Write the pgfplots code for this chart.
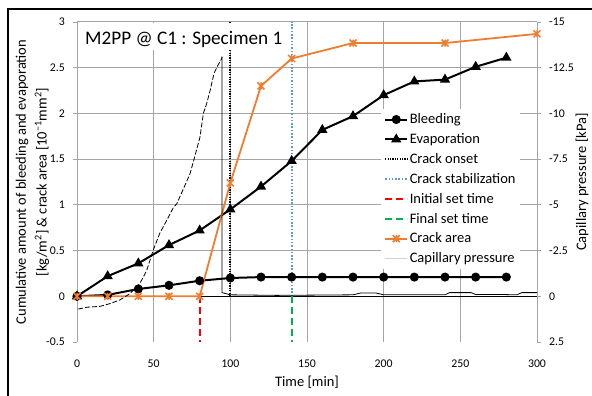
\documentclass[border=0pt]{standalone}
\usepackage{pgfplots}
\pgfplotsset{compat=1.18}
\usepackage{fontspec}
\setmainfont{Carlito}
\definecolor{exorange}{RGB}{237,125,49}
\definecolor{exblue}{RGB}{91,155,213}
\definecolor{exgreen}{RGB}{0,176,80}
\definecolor{gridgray}{RGB}{165,165,165}
\pgfdeclareplotmark{xstar}{%
  \pgfpathmoveto{\pgfqpoint{-\pgfplotmarksize}{-\pgfplotmarksize}}%
  \pgfpathlineto{\pgfqpoint{\pgfplotmarksize}{\pgfplotmarksize}}%
  \pgfpathmoveto{\pgfqpoint{-\pgfplotmarksize}{\pgfplotmarksize}}%
  \pgfpathlineto{\pgfqpoint{\pgfplotmarksize}{-\pgfplotmarksize}}%
  \pgfpathmoveto{\pgfqpoint{0pt}{-\pgfplotmarksize}}%
  \pgfpathlineto{\pgfqpoint{0pt}{\pgfplotmarksize}}%
  \pgfusepathqstroke}
\begin{document}
\begin{tikzpicture}[x=1pt,y=1pt]
\useasboundingbox (0,0) rectangle (592,396);
\begin{axis}[
  at={(77pt,54pt)}, anchor=south west,
  scale only axis, width=460pt, height=320pt,
  xmin=0, xmax=300, ymin=-0.5, ymax=3,
  xtick={0,50,100,150,200,250,300},
  ytick={0,0.5,1,1.5,2,2.5,3},
  extra y ticks={-0.5}, extra y tick style={grid=none},
  grid=major, grid style={gridgray, line width=1pt},
  axis line style={draw=none},
  tick align=outside, major tick length=4pt,
  xtick pos=bottom, ytick pos=left,
  xtick style={draw=none}, ytick style={gridgray, line width=0.8pt},
  /pgf/number format/assume math mode=true,
  tick label style={font=\fontsize{11.8}{13}\selectfont},
  yticklabel style={anchor=east, inner sep=0pt, xshift=-8pt},
  xticklabel style={anchor=base, inner sep=0pt, yshift=-22pt},
  legend style={at={(0.661,0.728)}, anchor=north west, draw=none, fill=white,
    inner xsep=3pt, inner ysep=3pt, row sep=5.3pt,
    font=\fontsize{14.5}{17}\selectfont, nodes={inner sep=1.5pt}},
  legend cell align=left,
  legend image code/.code={\draw[mark repeat=2,mark phase=2,#1] plot coordinates {(0pt,0pt) (11pt,0pt) (22pt,0pt)};},
]
\draw[black, line width=1.3pt] (axis cs:0,0) -- (axis cs:300,0);
% Bleeding
\addplot[black, line width=2pt, mark=*, mark size=3.5pt] coordinates {
 (0,0) (20,0.015) (40,0.08) (60,0.12) (80,0.17) (100,0.2) (120,0.21) (140,0.21)
 (160,0.21) (180,0.21) (200,0.21) (220,0.21) (240,0.21) (260,0.21) (280,0.21)};
\addlegendentry{Bleeding}
% Evaporation
\addplot[black, line width=2pt, mark=triangle*, mark size=4pt] coordinates {
 (0,0) (20,0.22) (40,0.36) (60,0.56) (80,0.72) (100,0.95) (120,1.2) (140,1.48)
 (160,1.82) (180,1.97) (200,2.2) (220,2.35) (240,2.37) (260,2.51) (280,2.61)};
\addlegendentry{Evaporation}
% Crack onset
\addplot[black, line width=1.8pt, dash pattern=on 1.2pt off 1.2pt] coordinates {(100,0) (100,3)};
\addlegendentry{Crack onset}
% Crack stabilization
\addplot[exblue, line width=1.8pt, dash pattern=on 1.5pt off 1.8pt] coordinates {(140,0) (140,3)};
\addlegendentry{Crack stabilization}
% Initial set time
\addplot[red, line width=2pt, dash pattern=on 7pt off 4pt] coordinates {(80,0) (80,-0.5)};
\addlegendentry{Initial set time}
% Final set time
\addplot[exgreen, line width=2pt, dash pattern=on 7pt off 4pt] coordinates {(140,0) (140,-0.5)};
\addlegendentry{Final set time}
% Crack area
\addplot[exorange, line width=1.8pt, mark=xstar, mark size=3.5pt, mark options={line width=1.5pt}] coordinates {
 (0,0) (20,0) (40,0) (60,0) (80,0) (100,1.24) (120,2.30) (140,2.60) (180,2.77) (240,2.77) (300,2.87)};
\addlegendentry{Crack area}
\addlegendimage{gray!35, line width=1.5pt}
\addlegendentry{Capillary pressure}
\end{axis}
\begin{axis}[
  at={(77pt,54pt)}, anchor=south west,
  scale only axis, width=460pt, height=320pt,
  xmin=0, xmax=300, ymin=-15, ymax=2.5, y dir=reverse,
  axis line style={draw=none},
  xtick=\empty,
  ytick={-15,-12.5,-10,-7.5,-5,-2.5,0,2.5},
  ytick pos=right, yticklabel pos=right,
  tick align=outside, major tick length=4pt,
  ytick style={gridgray, line width=0.8pt},
  /pgf/number format/assume math mode=true,
  tick label style={font=\fontsize{11.8}{13}\selectfont},
  yticklabel style={anchor=west, inner sep=0pt, xshift=8pt},
]
% Capillary pressure [kPa]
\addplot[black, line width=0.8pt, dash pattern=on 5pt off 2pt] coordinates {
 (0.8,0.7) (6.3,0.6) (15,0.55) (21.5,0.4) (28,0.2) (34.6,-0.15) (41,-0.7) (45.4,-1.4)
 (49.6,-2.5) (54,-3.45) (58.5,-4.15) (62.8,-4.85) (65,-5.05) (69,-5.8) (73.7,-6.7)
 (77,-7.7) (80.2,-8.7) (82.4,-10.0) (84.6,-10.55) (86.8,-11.25) (89.4,-12.2)
 (92,-12.65) (94.4,-13.0) (94.6,-13.1)};
\addplot[black, line width=0.8pt] coordinates {
 (94.6,-13.1) (94.6,-0.2) (100,-0.08) (130,-0.05) (180,-0.08) (185,-0.18) (195,-0.18)
 (200,-0.08) (240,-0.08) (243,-0.2) (257,-0.2) (260,-0.1) (275,-0.1) (287,-0.08)
 (290,-0.2) (300,-0.2)};
\end{axis}
% title box
\fill[white] (78,346) rectangle (288,373);
\node[anchor=base west, inner sep=0pt, font=\fontsize{19.2}{22}\selectfont] at (85,351) {M2PP @ C1 : Specimen 1};
% axis titles
\node[rotate=90, font=\fontsize{14.5}{17}\selectfont] at (22,214) {Cumulative amount of bleeding and evaporation};
\node[rotate=90, font=\fontsize{14.5}{17}\selectfont] at (42,214) {[kg/m\textsuperscript{2}] \& crack area [10\textsuperscript{−1}mm\textsuperscript{2}]};
\node[rotate=90, font=\fontsize{14.5}{17}\selectfont] at (582,214) {Capillary pressure [kPa]};
\node[font=\fontsize{14.5}{17}\selectfont] at (307,14) {Time [min]};
% outer frame
\draw[line width=2pt] (8,0) -- (8,387) -- (592,387);
\end{tikzpicture}
\end{document}
